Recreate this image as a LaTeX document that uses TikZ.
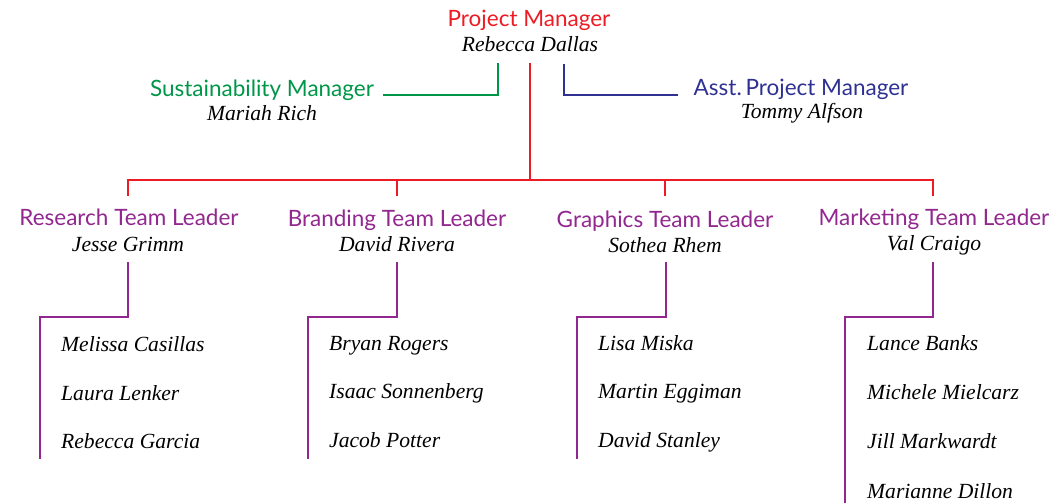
\documentclass[tikz,border=0pt]{standalone}
\usepackage{fontspec}
\newfontfamily\sansf{Lato}
\newfontfamily\serf{Liberation Serif}
\definecolor{pmred}{RGB}{237,28,36}
\definecolor{smgreen}{RGB}{0,150,72}
\definecolor{apblue}{RGB}{46,49,146}
\definecolor{tlpurple}{RGB}{146,39,143}
\tikzset{
  ttl/.style={font=\sansf\fontsize{22.5}{22.5}\selectfont, anchor=base, inner sep=0pt},
  nm/.style={font=\serf\itshape\fontsize{21.6}{21.6}\selectfont, anchor=base, inner sep=0pt},
  mem/.style={nm, anchor=base west},
  conn/.style={line width=1.9pt},
}
\begin{document}
\begin{tikzpicture}[x=1pt,y=-1pt]
\useasboundingbox (0,0) rectangle (1051,503);
% top level
\node[ttl, text=pmred] (pmt) at (529,27) {Project Manager};
\node[nm] (pmn) at (530,52) {Rebecca Dallas};
\node[ttl, text=smgreen] (smt) at (262,96) {Sustainability Manager};
\node[nm] (smn) at (262,120) {Mariah Rich};
\node[ttl, text=apblue] (apt) at (801,95) {Asst.\,Project Manager};
\node[nm] (apn) at (802,118) {Tommy Alfson};
% team leaders
\node[ttl, text=tlpurple] (rtt) at (129,225) {Research Team Leader};
\node[nm] (rtn) at (128,251) {Jesse Grimm};
\node[ttl, text=tlpurple] (btt) at (397,226) {Branding Team Leader};
\node[nm] (btn) at (397,251) {David Rivera};
\node[ttl, text=tlpurple] (gtt) at (665,227) {Graphics Team Leader};
\node[nm] (gtn) at (665,252) {Sothea Rhem};
\node[ttl, text=tlpurple] (mtt) at (934,225) {Marketing Team Leader};
\node[nm] (mtn) at (934,250) {Val Craigo};
% members
\node[mem] (r1) at (61,351) {Melissa Casillas};
\node[mem] (r2) at (61,400) {Laura Lenker};
\node[mem] (r3) at (61,448) {Rebecca Garcia};
\node[mem] (b1) at (329,350) {Bryan Rogers};
\node[mem] (b2) at (329,398) {Isaac Sonnenberg};
\node[mem] (b3) at (329,447) {Jacob Potter};
\node[mem] (g1) at (598,350) {Lisa Miska};
\node[mem] (g2) at (598,398) {Martin Eggiman};
\node[mem] (g3) at (598,447) {David Stanley};
\node[mem] (m1) at (867,350) {Lance Banks};
\node[mem] (m2) at (867,399) {Michele Mielcarz};
\node[mem] (m3) at (867,448) {Jill Markwardt};
\node[mem] (m4) at (867,498) {Marianne Dillon};
% junction coordinates
\coordinate (pmroot) at (530,63);
\coordinate (bus) at (530,180);
\coordinate (busL) at (128,180);
\coordinate (busR) at (933,180);
\coordinate (tk1) at (128,196);
\coordinate (tk2) at (397,196);
\coordinate (tk3) at (665,196);
\coordinate (tk4) at (933,196);
\coordinate (smroot) at (498,63);
\coordinate (smend) at (383,95);
\coordinate (aproot) at (564,64);
\coordinate (apend) at (678,95);
% connectors
\draw[conn, pmred] (pmroot) -- (bus);
\draw[conn, pmred] (tk1) -- (busL) -- (busR) -- (tk4);
\draw[conn, pmred] (tk2) -- (tk2 |- bus);
\draw[conn, pmred] (tk3) -- (tk3 |- bus);
\draw[conn, smgreen] (smend) -| (smroot);
\draw[conn, apblue] (aproot) |- (apend);
% team branches
\coordinate (ra) at (128,262); \coordinate (rb) at (40,317); \coordinate (rc) at (40,459);
\coordinate (ba) at (397,262); \coordinate (bb) at (308,317); \coordinate (bc) at (308,459);
\coordinate (ga) at (666,262); \coordinate (gb) at (577,317); \coordinate (gc) at (577,459);
\coordinate (ma) at (933,262); \coordinate (mb) at (845,317); \coordinate (mc) at (845,503);
\draw[conn, tlpurple] (ra) |- (rb) -- (rc);
\draw[conn, tlpurple] (ba) |- (bb) -- (bc);
\draw[conn, tlpurple] (ga) |- (gb) -- (gc);
\draw[conn, tlpurple] (ma) |- (mb) -- (mc);
\end{tikzpicture}
\end{document}
